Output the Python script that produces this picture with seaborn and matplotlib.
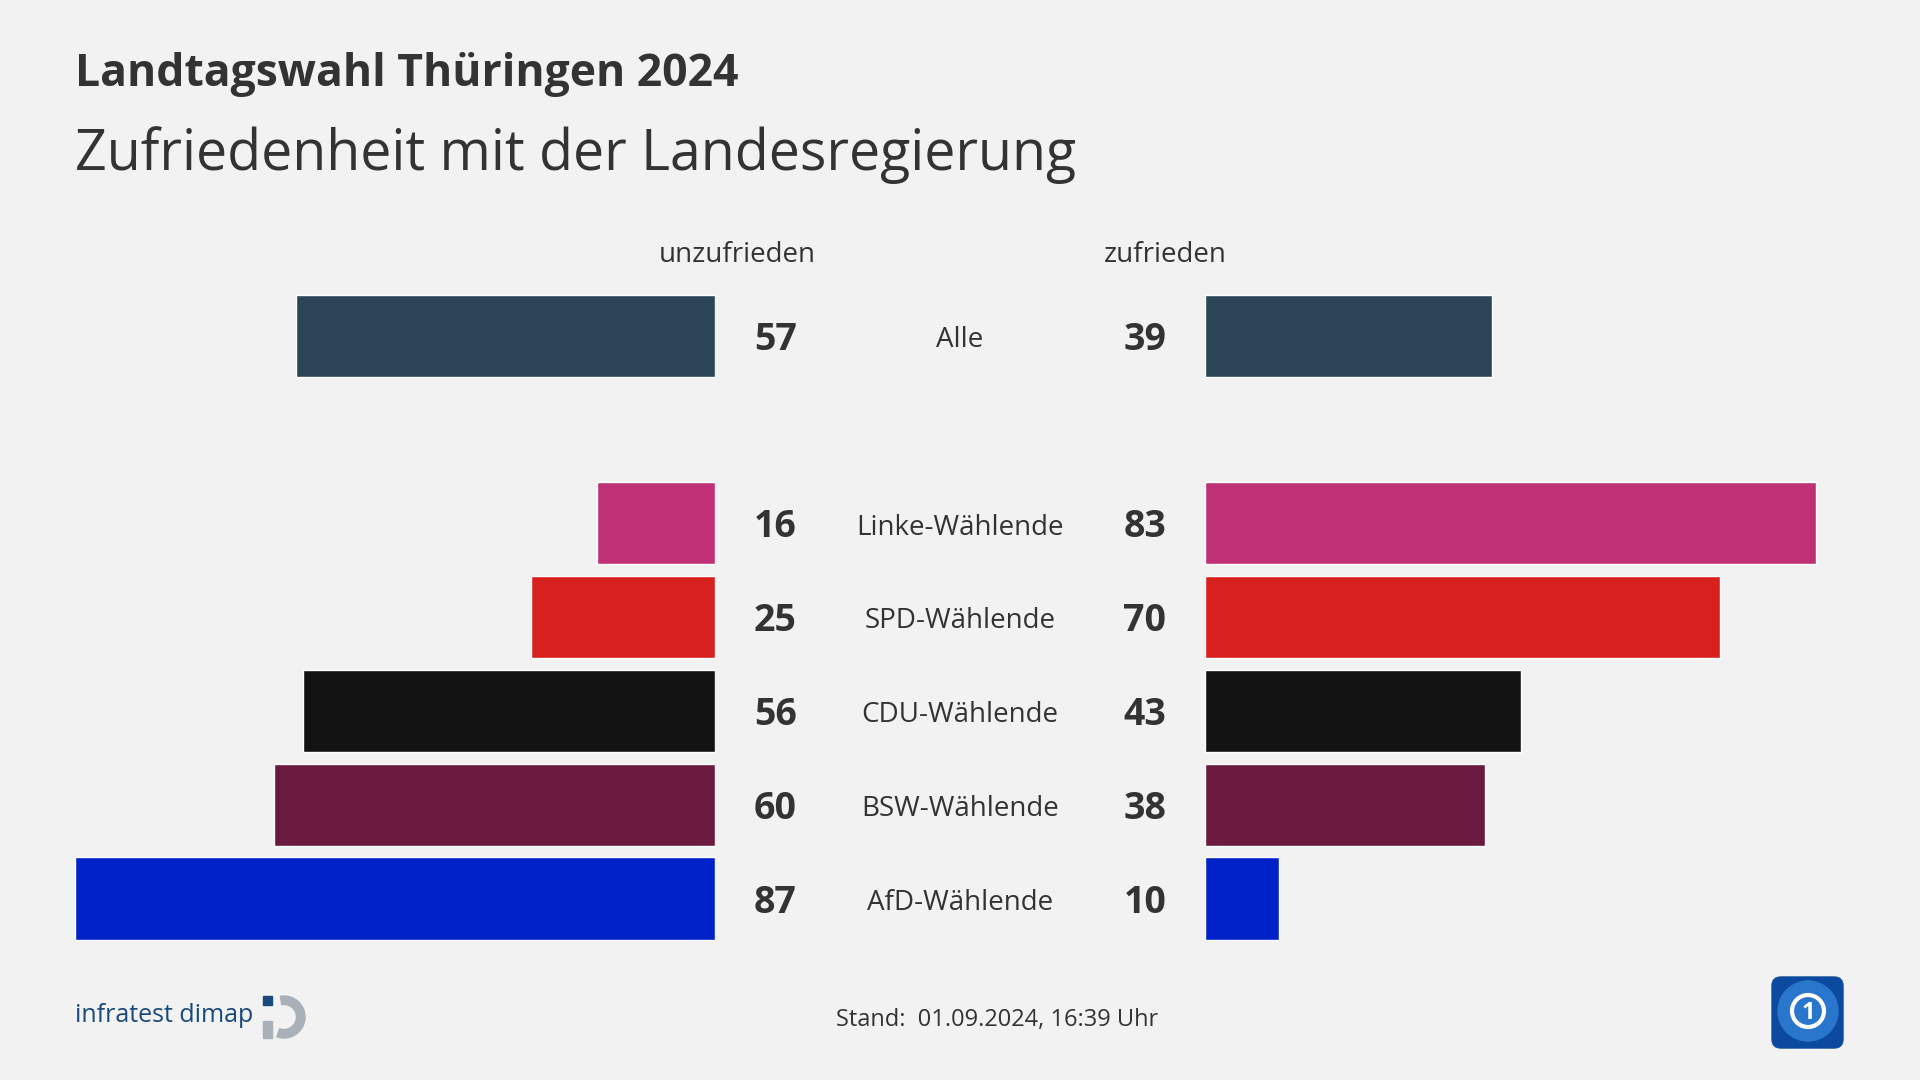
import pandas as pd
import matplotlib.pyplot as plt
import seaborn as sns
from matplotlib.transforms import blended_transform_factory
from matplotlib.patches import Wedge, Rectangle, FancyBboxPatch, Circle

# Data
gruppen = ["Alle", "Linke-Wählende", "SPD-Wählende", "CDU-Wählende", "BSW-Wählende", "AfD-Wählende"]
unzufrieden = [57, 16, 25, 56, 60, 87]
zufrieden = [39, 83, 70, 43, 38, 10]
farben = ["#2b4557", "#bf3174", "#d8201e", "#121212", "#6a1a3f", "#0022c8"]

title = "Landtagswahl Thüringen 2024"
subtitle = "Zufriedenheit mit der Landesregierung"
stand = "Stand:  01.09.2024, 16:39 Uhr"

df = pd.DataFrame({"gruppe": gruppen, "unzufrieden": unzufrieden, "zufrieden": zufrieden})
order = [gruppen[0], ""] + gruppen[1:]   # leere Zeile nach "Alle"
palette = dict(zip(gruppen, farben))

sns.set_style("white")
plt.rcParams["font.family"] = ["Open Sans", "DejaVu Sans"]
bg = "#f2f2f2"
txt = "#333333"

fig = plt.figure(figsize=(19.2, 10.8), dpi=100, facecolor=bg)
ax_l = fig.add_axes([75 / 1920, 1 - 945.4 / 1080, 640 / 1920, 656.4 / 1080])
ax_r = fig.add_axes([1205 / 1920, 1 - 945.4 / 1080, 640 / 1920, 656.4 / 1080])

for ax, col in [(ax_l, "unzufrieden"), (ax_r, "zufrieden")]:
    sns.barplot(data=df, y="gruppe", x=col, order=order, hue="gruppe", palette=palette,
                legend=False, ax=ax, width=0.875, saturation=1, orient="h")
    ax.set_ylim(6.5, -0.5)
    ax.axis("off")
ax_l.set_xlim(87, 0)
ax_r.set_xlim(0, 87)

tl = blended_transform_factory(ax_l.transAxes, ax_l.transData)
tr = blended_transform_factory(ax_r.transAxes, ax_r.transData)
for g, u, z in zip(gruppen, unzufrieden, zufrieden):
    y = order.index(g)
    ax_l.text(1.094, y + 0.15, str(u), transform=tl, ha="center", va="baseline",
              fontsize=27, fontweight="bold", color=txt)
    ax_l.text(1.383, y + 0.12, g, transform=tl, ha="center", va="baseline", fontsize=20, color=txt)
    ax_r.text(-0.094, y + 0.15, str(z), transform=tr, ha="center", va="baseline",
              fontsize=27, fontweight="bold", color=txt)

# overlay in pixel coordinates for titles and logos
ov = fig.add_axes([0, 0, 1, 1], facecolor="none")
ov.set_xlim(0, 1920)
ov.set_ylim(1080, 0)
ov.axis("off")

ov.text(75, 86, title, fontsize=32, fontweight="bold", color=txt, va="baseline", ha="left")
ov.text(75, 170, subtitle, fontsize=40, color=txt, va="baseline", ha="left")
ov.text(737, 262, "unzufrieden", fontsize=20, color=txt, va="baseline", ha="center")
ov.text(1165, 262, "zufrieden", fontsize=20, color=txt, va="baseline", ha="center")
ov.text(997, 1026, stand, fontsize=17, color=txt, va="baseline", ha="center")

# infratest dimap logo
ov.text(75, 1022, "infratest dimap", fontsize=18, color="#1a4a7d", va="baseline", ha="left")
ov.add_patch(Wedge((284, 1017), 21, -100, 110, width=8.5, color="#a9b0b7"))
ov.add_patch(Rectangle((263, 1021), 9, 17, color="#a9b0b7"))
ov.add_patch(Rectangle((263, 996), 9, 9, color="#1a4a7d"))

# ARD logo
ov.add_patch(FancyBboxPatch((1772, 977), 71, 71, boxstyle="round,pad=0,rounding_size=9",
                            color="#0b4a9e"))
ov.add_patch(Circle((1808, 1011), 30, color="#2a76cc"))
ov.add_patch(Circle((1808, 1011), 16, fill=False, ec="white", lw=3))
ov.text(1808, 1019, "1", fontsize=17, fontweight="bold", color="white", ha="center", va="baseline")

fig.savefig("out.png", dpi=100, facecolor=bg)
